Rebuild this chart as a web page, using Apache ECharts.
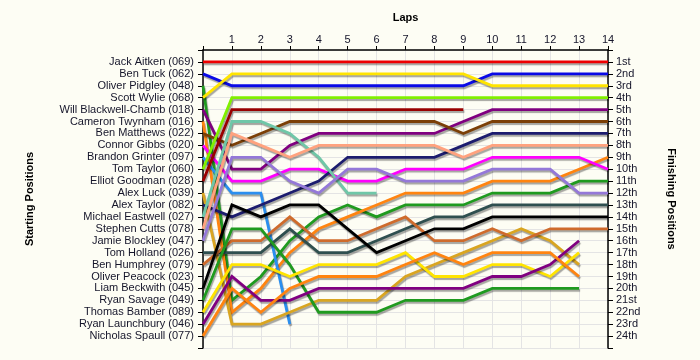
<!DOCTYPE html>
<html>
<head>
<meta charset="utf-8">
<script src="https://cdn.jsdelivr.net/npm/echarts@6/dist/echarts.min.js"></script>
<style>html,body{margin:0;padding:0;background:#fdfdf4;}#c{width:700px;height:360px;}</style>
</head>
<body>
<div id="c"></div>
<script>
// Starting grid (position 1..24)
const drivers = [
  "Jack Aitken (069)", "Ben Tuck (062)", "Oliver Pidgley (048)", "Scott Wylie (068)",
  "Will Blackwell-Chamb (018)", "Cameron Twynham (016)", "Ben Matthews (022)", "Connor Gibbs (020)",
  "Brandon Grinter (097)", "Tom Taylor (060)", "Elliot Goodman (028)", "Alex Luck (039)",
  "Alex Taylor (082)", "Michael Eastwell (027)", "Stephen Cutts (078)", "Jamie Blockley (047)",
  "Tom Holland (026)", "Ben Humphrey (079)", "Oliver Peacock (023)", "Liam Beckwith (045)",
  "Ryan Savage (049)", "Thomas Bamber (089)", "Ryan Launchbury (046)", "Nicholas Spaull (077)"
];
const finishLabels = ["1st","2nd","3rd","4th","5th","6th","7th","8th","9th","10th","11th","12th",
  "13th","14th","15th","16th","17th","18th","19th","20th","21st","22nd","23rd","24th"];
const lapLabels = [1,2,3,4,5,6,7,8,9,10,11,12,13,14];

// Position at lap 0 (start) then after each lap
const aitken      = [1, 1,1,1,1,1,1,1,1,1,1,1,1,1,1];
const tuck        = [2, 3,3,3,3,3,3,3,3,3,2,2,2,2,2];
const pidgley     = [3, 21,19,16,14,13,14,13,13,13,12,12,12,11,11];
const wylie       = [4, 2,2,2,2,2,2,2,2,2,3,3,3,3,3];
const blackwell   = [5, 10,10,8,7,7,7,7,7,6,5,5,5,5,5];
const twynham     = [6, 22,20,17,15,14,13,12,12,12,11,11,11,10,9];
const matthews    = [7, 8,7,6,6,6,6,6,6,7,6,6,6,6,6];
const gibbs       = [8, 11,11,10,10,11,11,10,10,10,9,9,9,9,10];
const grinter     = [9, 12,12,23];
const tomTaylor   = [10, 4,4,4,4,4,4,4,4,4,4,4,4,4,4];
const goodman     = [11, 5,5,5,5,5,5,5,5,5];
const luck        = [12, 23,23,22,21,21,21,19,18,17,16,15,16,18];
const alexTaylor  = [13, 14,13,12,11,9,9,9,9,8,7,7,7,7,7];
const eastwell    = [14, 6,6,7,9,12,12];
const cutts       = [15, 7,8,9,8,8,8,8,8,9,8,8,8,8,8];
const blockley    = [16, 9,9,11,12,10,10,11,11,11,10,10,10,12,12];
const holland     = [17, 17,17,15,17,17,16,15,14,14,13,13,13,13,13];
const humphrey    = [18, 16,16,14,16,16,15,14,16,16,15,16,15,15,15];
const peacock     = [19];
const beckwith    = [20, 13,14,13,13,15,17,16,15,15,14,14,14,14,14];
const savage      = [21, 15,15,18,22,22,22,21,21,21,20,20,20,20];
const bamber      = [22, 18,18,19,18,18,18,17,19,19,18,18,19,17];
const launchbury  = [23, 19,21,21,20,20,20,20,20,20,19,19,18,16];
const spaull      = [24, 20,22,20,19,19,19,18,17,18,17,17,17,19];

const runs = [aitken,tuck,pidgley,wylie,blackwell,twynham,matthews,gibbs,grinter,tomTaylor,
  goodman,luck,alexTaylor,eastwell,cutts,blockley,holland,humphrey,peacock,beckwith,
  savage,bamber,launchbury,spaull];

// styles
const lineColors = ["#ee0000","#0a0ae6","#1f9a1f","#ffe400","#800080","#ff8410","#7b3f06","#ff00ff",
  "#2b8fef","#80f000","#990000","#d9a521","#1c1c6e","#6fc7a8","#ffa27e","#9478d8",
  "#2f4f4f","#cf6b2c","#999999","#000000","#1f9a1f","#ffe400","#800080","#ff8410"];

const series = runs.map((r, i) => ({
  name: drivers[i],
  type: 'line',
  data: r.map((p, lap) => [lap, p]),
  showSymbol: false,
  symbol: 'none',
  silent: true,
  animation: false,
  lineStyle: {
    width: 2.8, color: lineColors[i], cap: 'butt', join: 'miter',
    shadowColor: 'rgba(0,0,0,0.35)', shadowOffsetX: 1, shadowOffsetY: 2, shadowBlur: 1
  }
}));

const font = "'Liberation Sans', Arial, sans-serif";
const txt = '#15152a';
const chart = echarts.init(document.getElementById('c'));
chart.setOption({
  backgroundColor: '#fdfdf4',
  animation: false,
  grid: { left: 203, right: 92, top: 50, bottom: 12, containLabel: false },
  xAxis: {
    type: 'value', position: 'top', min: 0, max: 14, interval: 1,
    name: 'Laps', nameLocation: 'middle', nameGap: 27,
    nameTextStyle: { fontFamily: font, fontSize: 11, fontWeight: 'bold', color: '#000' },
    axisLine: { show: true, lineStyle: { color: '#000', width: 1.5 } },
    axisTick: { show: true, length: 4, lineStyle: { color: '#000' } },
    axisLabel: { margin: 5, fontFamily: font, fontSize: 11, color: txt,
      formatter: v => (v >= 1 && v <= 14) ? String(lapLabels[v - 1]) : '' },
    splitLine: { show: true, lineStyle: { color: '#e4e4e4', width: 1 } }
  },
  yAxis: [
    {
      type: 'value', position: 'left', inverse: true, min: 0, max: 25, interval: 1,
      name: 'Starting Positions', nameLocation: 'middle', nameGap: 168, nameRotate: 90,
      nameTextStyle: { fontFamily: font, fontSize: 11, fontWeight: 'bold', color: '#000' },
      axisLine: { show: true, lineStyle: { color: '#000', width: 1.5 } },
      axisTick: { show: true, length: 5, lineStyle: { color: '#000' } },
      axisLabel: { margin: 9, fontFamily: font, fontSize: 11, color: txt,
        formatter: v => (v >= 1 && v <= 24) ? drivers[v - 1] : '' },
      splitLine: { show: true, lineStyle: { color: '#e4e4e4', width: 1 } }
    },
    {
      type: 'value', position: 'right', inverse: true, min: 0, max: 25, interval: 1,
      name: 'Finishing Positions', nameLocation: 'middle', nameGap: 58, nameRotate: -90,
      nameTextStyle: { fontFamily: font, fontSize: 11, fontWeight: 'bold', color: '#000' },
      axisLine: { show: true, lineStyle: { color: '#000', width: 1.5 } },
      axisTick: { show: true, length: 5, lineStyle: { color: '#000' } },
      axisLabel: { margin: 8, fontFamily: font, fontSize: 11, color: txt,
        formatter: v => (v >= 1 && v <= 24) ? finishLabels[v - 1] : '' },
      splitLine: { show: false }
    }
  ],
  series: series
});
</script>
</body>
</html>
